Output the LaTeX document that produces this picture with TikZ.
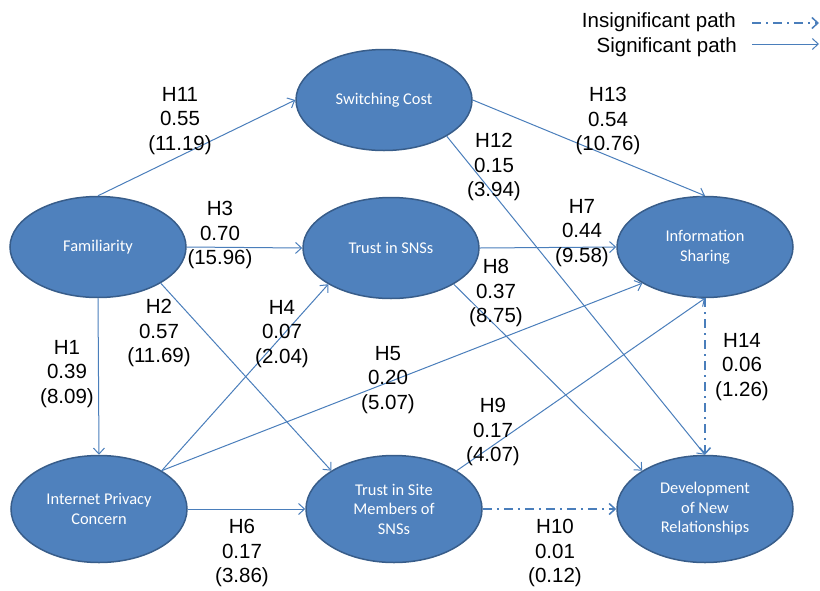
\documentclass[tikz,border=0pt]{standalone}
\usepackage{fontspec}
\setmainfont{Liberation Sans}
\newfontfamily\calib{Carlito}
\usetikzlibrary{shapes.geometric,arrows.meta}
\definecolor{nodefill}{HTML}{4F81BD}
\definecolor{nodeedge}{HTML}{385D8A}
\definecolor{edgeblue}{HTML}{4A7EBB}
\begin{document}
\begin{tikzpicture}[x=1pt,y=-1pt,
  cnode/.style={ellipse, draw=nodeedge, line width=1.5pt, fill=nodefill,
    text=white, align=center, inner sep=0pt,
    minimum width=176pt, minimum height=101pt,
    font=\calib\fontsize{16.4pt}{19.5pt}\selectfont},
  tallnode/.style={cnode, minimum height=107pt},
  lab/.style={align=center, inner sep=0pt, font=\fontsize{20.5pt}{24.8pt}\selectfont},
  legtext/.style={anchor=east, inner sep=0pt, font=\fontsize{20.5pt}{24.8pt}\selectfont},
  sig/.style={draw=edgeblue, line width=1pt, -{Straight Barb[length=6pt,width=11pt]}},
  insig/.style={draw=edgeblue, line width=2pt, dash pattern=on 9pt off 5pt on 2pt off 5pt,
    -{Straight Barb[length=6pt,width=11pt,line width=1.5pt]}}]
\useasboundingbox (0,0) rectangle (820,590);
% nodes
\node[cnode] (sc) at (384,100) {Switching Cost};
\node[cnode] (fam) at (98,247) {Familiarity};
\node[cnode] (ts) at (391,248) {Trust in SNSs};
\node[cnode] (is) at (705,247) {Information\\Sharing};
\node[tallnode] (ipc) at (99,509) {Internet Privacy\\Concern};
\node[tallnode] (tsm) at (394,509) {Trust in Site\\Members of\\SNSs};
\node[tallnode] (dev) at (705,509) {Development\\of New\\Relationships};
% connectors
\draw[sig] (fam.north) -- (sc.west);
\draw[sig] (fam.east) -- (ts.west);
\draw[sig] (fam.south) -- (ipc.north);
\draw[sig] (fam.south east) -- (tsm.north west);
\draw[sig] (ipc.north east) -- (ts.south west);
\draw[sig] (ipc.north east) -- (is.south west);
\draw[sig] (ipc.east) -- (tsm.west);
\draw[sig] (sc.east) -- (is.north);
\draw[sig] (sc.south east) -- (dev.north);
\draw[sig] (ts.east) -- (is.west);
\draw[sig] (ts.south east) -- (dev.north west);
\draw[sig] (tsm.north east) -- (is.south);
\draw[insig] (tsm.east) -- (dev.west);
\draw[insig] (is.south) -- (dev.north);
% labels
\node[lab] (l11) at (180,121) {H11\\0.55\\(11.19)};
\node[lab] (l3) at (220,235) {H3\\0.70\\(15.96)};
\node[lab] (l13) at (608,121) {H13\\0.54\\(10.76)};
\node[lab] (l12) at (494,167) {H12\\0.15\\(3.94)};
\node[lab] (l7) at (582,233) {H7\\0.44\\(9.58)};
\node[lab] (l8) at (496,293) {H8\\0.37\\(8.75)};
\node[lab] (l2) at (159,333) {H2\\0.57\\(11.69)};
\node[lab] (l4) at (282,334) {H4\\0.07\\(2.04)};
\node[lab] (l5) at (388,380) {H5\\0.20\\(5.07)};
\node[lab] (l1) at (67,374) {H1\\0.39\\(8.09)};
\node[lab] (l9) at (493,432) {H9\\0.17\\(4.07)};
\node[lab] (l14) at (742,367) {H14\\0.06\\(1.26)};
\node[lab] (l6) at (242,553) {H6\\0.17\\(3.86)};
\node[lab] (l10) at (555,553) {H10\\0.01\\(0.12)};
% legend
\node[legtext] (legi) at (736,22) {Insignificant path};
\node[legtext] (legs) at (737,47) {Significant path};
\coordinate (lia) at (752,23);
\coordinate (lib) at (819,23);
\coordinate (lsa) at (752,44);
\coordinate (lsb) at (819,44);
\draw[insig] (lia) -- (lib);
\draw[sig] (lsa) -- (lsb);
\end{tikzpicture}
\end{document}
